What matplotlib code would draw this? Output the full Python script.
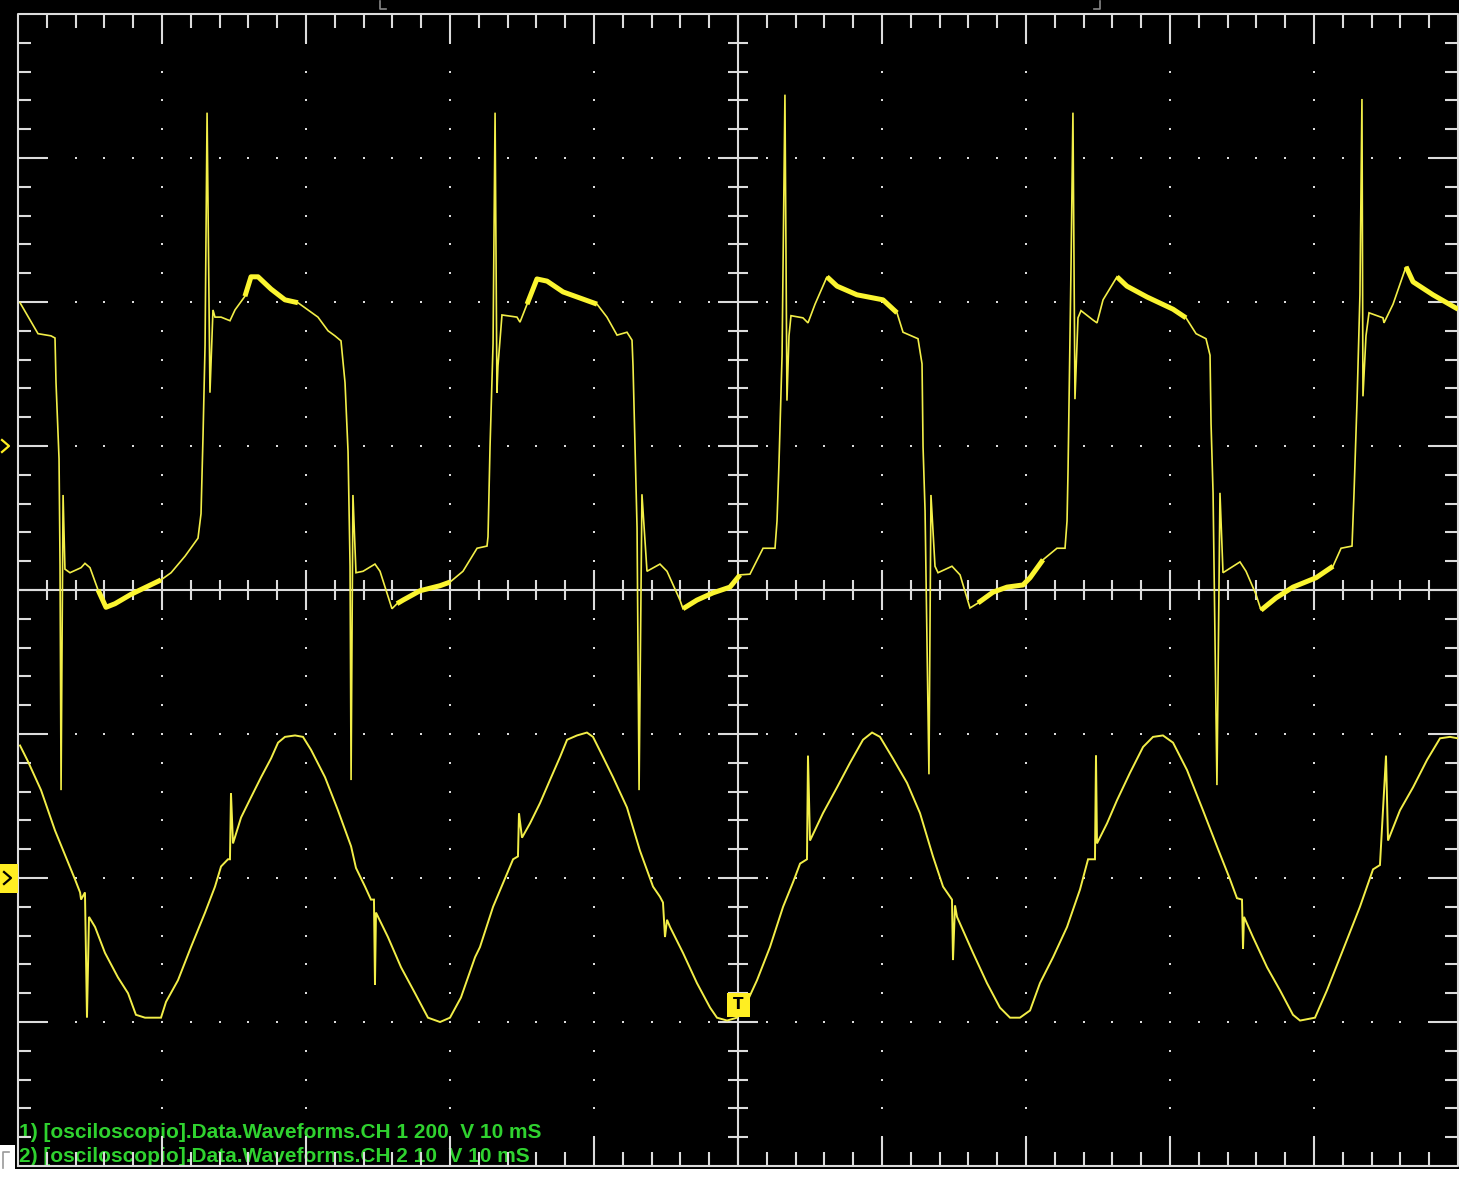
import numpy as np
import matplotlib.pyplot as plt
from matplotlib.patches import Rectangle

# Channel 1: time (ms) and voltage (V), 200 V/div
ch1_t = [0.14, 1.39, 2.29, 2.57, 2.64, 2.85, 2.92, 2.99, 3.13, 3.26,
         3.61, 4.38, 4.65, 5.0, 5.56, 6.11, 6.74, 7.85, 9.93, 10.63,
         11.6, 12.5, 12.71, 12.85, 12.99, 13.13, 13.33, 13.4, 13.54, 13.68,
         14.1, 14.72, 15.07, 15.76, 16.18, 16.67, 17.57, 18.54, 19.44, 20.14,
         20.83, 21.53, 22.01, 22.43, 22.71, 22.92, 23.06, 23.13, 23.26, 23.47,
         23.96, 24.79, 25.14, 25.97, 26.32, 26.74, 27.92, 29.31, 30.0, 30.9,
         31.88, 32.57, 32.64, 32.78, 32.99, 33.13, 33.26, 33.33, 33.61, 34.65,
         34.86, 35.35, 36.04, 36.74, 37.85, 39.24, 40.21, 40.9, 41.6, 42.29,
         42.64, 42.71, 42.85, 42.99, 43.13, 43.33, 43.68, 44.58, 45.07, 45.97,
         46.18, 47.15, 48.26, 49.44, 50.14, 50.83, 51.74, 52.57, 52.71, 52.85,
         53.06, 53.26, 53.4, 53.54, 53.68, 54.51, 54.86, 55.35, 56.18, 56.88,
         58.26, 60.07, 61.04, 61.46, 62.5, 62.78, 62.85, 62.99, 63.26, 63.4,
         63.68, 63.89, 64.86, 65.42, 66.11, 66.67, 67.71, 68.68, 69.79, 70.28,
         71.18, 72.15, 72.71, 72.85, 72.92, 73.13, 73.26, 73.4, 73.61, 73.82,
         74.65, 74.93, 75.35, 76.32, 77.01, 78.4, 80.21, 81.11, 81.81, 82.5,
         82.78, 82.85, 82.99, 83.26, 83.47, 83.68, 84.38, 84.86, 85.28, 85.97,
         86.32, 87.36, 88.54, 90.14, 91.32, 91.88, 92.64, 92.78, 92.99, 93.19,
         93.33, 93.4, 93.61, 93.82, 94.79, 94.86, 95.49, 96.39, 96.88, 98.26, 100.0]
ch1_v = [199, 156, 153, 150, 88, -18, -167, -478, -68, -171,
         -176, -169, -163, -169, -200, -224, -219, -206, -186, -176,
         -153, -128, -94, 15, 140, 463, 74, 113, 189, 179,
         179, 174, 189, 208, 235, 235, 218, 203, 199, 189,
         179, 160, 153, 146, 88, -8, -167, -464, -68, -176,
         -174, -164, -174, -226, -219, -214, -201, -194, -189, -174,
         -142, -139, -126, -1, 142, 463, 74, 111, 182, 179,
         172, 197, 232, 229, 214, 204, 197, 179, 154, 158,
         147, 111, -1, -114, -478, -67, -174, -164, -174, -214,
         -226, -214, -204, -196, -179, -178, -142, -142, -104, -21,
         126, 488, 63, 153, 181, 178, 171, 197, 235, 222,
         210, 203, 185, 158, 149, 114, -1, -90, -456, -68,
         -167, -176, -167, -179, -225, -218, -203, -196, -193, -183,
         -158, -142, -142, -104, -33, 254, 463, 65, 178, 188,
         175, 171, 203, 235, 222, 207, 190, 178, 156, 149,
         126, 31, -65, -471, -65, -176, -167, -161, -174, -206,
         -228, -211, -196, -183, -167, -142, -139, -65, 63, 210,
         482, 69, 153, 185, 178, 171, 197, 249, 228, 210, 190]

# Channel 2: time (ms) and voltage (V), 10 V/div
ch2_t = [0.14, 0.69, 1.6, 2.57, 3.96, 4.31, 4.38, 4.65, 4.79, 4.93,
         5.35, 6.04, 6.94, 7.64, 8.19, 8.82, 9.93, 10.28, 11.11, 12.01,
         12.99, 13.68, 14.1, 14.58, 14.72, 14.79, 14.93, 15.49, 16.18, 16.88,
         17.57, 18.06, 18.54, 19.24, 19.79, 20.35, 21.32, 22.22, 23.13, 23.47,
         24.1, 24.51, 24.72, 24.79, 24.86, 25.69, 26.6, 27.57, 28.47, 29.31,
         30.0, 30.76, 31.74, 32.08, 32.99, 33.96, 34.38, 34.72, 34.79, 35.0,
         35.56, 36.25, 36.94, 37.64, 38.13, 38.82, 39.51, 39.93, 40.63, 41.32,
         42.29, 43.19, 44.1, 44.58, 44.79, 44.93, 45.07, 45.28, 46.18, 47.15,
         48.06, 48.54, 49.24, 49.93, 50.63, 51.32, 52.22, 53.13, 53.82, 54.31,
         54.79, 54.86, 55.0, 55.9, 56.88, 57.78, 58.68, 59.31, 59.86, 60.76,
         61.74, 62.64, 63.54, 64.24, 64.86, 64.93, 65.07, 65.21, 66.32, 67.29,
         68.19, 68.89, 69.58, 70.28, 70.97, 71.88, 72.85, 73.75, 74.31, 74.79,
         74.86, 74.93, 75.63, 76.32, 77.22, 78.13, 78.82, 79.51, 80.21, 81.18,
         82.29, 83.26, 84.17, 84.65, 85.0, 85.07, 85.14, 85.76, 86.74, 87.64,
         88.54, 89.03, 90.07, 90.9, 92.01, 93.19, 94.1, 94.58, 95.0, 95.14,
         95.97, 96.88, 97.85, 98.75, 99.44, 100.0]
ch2_v = [9.2, 8.1, 6.1, 3.3, -0.1, -1.0, -1.5, -1.0, -9.7, -2.7,
         -3.4, -5.2, -6.9, -8.0, -9.5, -9.7, -9.7, -8.6, -7.1, -4.8,
         -2.4, -0.6, 0.8, 1.3, 1.3, 5.9, 2.4, 4.2, 5.6, 7.0,
         8.3, 9.4, 9.8, 9.9, 9.8, 8.9, 7.0, 4.7, 2.2, 0.7,
         -0.6, -1.5, -1.5, -7.4, -2.4, -4.1, -6.2, -8.0, -9.7, -10.0,
         -9.7, -8.3, -5.5, -4.8, -2.0, 0.3, 1.3, 1.5, 4.5, 2.8,
         3.8, 5.2, 6.8, 8.4, 9.6, 9.9, 10.1, 9.8, 8.4, 7.0,
         4.9, 1.9, -0.6, -1.3, -1.7, -4.1, -2.9, -3.4, -5.2, -7.3,
         -9.0, -9.7, -9.9, -9.7, -8.6, -7.1, -4.8, -2.0, -0.3, 1.0,
         1.3, 8.5, 2.6, 4.5, 6.3, 8.0, 9.6, 10.1, 9.8, 8.3,
         6.6, 4.5, 1.5, -0.6, -1.5, -5.7, -1.9, -2.7, -5.2, -7.3,
         -9.0, -9.7, -9.7, -9.2, -7.3, -5.5, -3.4, -0.8, 1.3, 1.3,
         8.5, 2.4, 3.8, 5.4, 7.3, 9.1, 9.8, 9.9, 9.4, 7.5,
         4.7, 2.2, -0.1, -1.4, -1.5, -4.9, -2.7, -4.1, -6.2, -7.8,
         -9.5, -9.9, -9.7, -7.8, -5.0, -2.0, 0.6, 0.9, 8.5, 2.6,
         4.7, 6.3, 8.2, 9.7, 9.8, 9.7]

# stretches where channel 1 is drawn as a thick noisy band (ms)
ch1_noisy = [(5.5, 10.0), (15.7, 19.5), (26.3, 30.1), (35.3, 40.3), (46.1, 50.2),
             (56.1, 61.1), (66.6, 71.2), (76.3, 81.2), (86.3, 91.4), (96.3, 100.0)]

labels = ['1) [osciloscopio].Data.Waveforms.CH 1 200  V 10 mS',
          '2) [osciloscopio].Data.Waveforms.CH 2 10  V 10 mS']

MS_PER_DIV = 10.0
CH1_V_PER_DIV, CH1_POS = 200.0, 1.0
CH2_V_PER_DIV, CH2_POS = 10.0, -2.0

W, H = 1460, 1179
PX = 1 / 144.0  # one pixel in divisions
TRACE = '#f2ee48'
GRID = '#dcdcdc'
GREEN = '#2fd22f'
MARK = '#ffee22'

fig = plt.figure(figsize=(W / 100, H / 100), dpi=100, facecolor='white')
fig.patches.append(Rectangle((0, 10 / H), 1459 / W, 1169 / H, transform=fig.transFigure,
                             facecolor='black', edgecolor='none', zorder=-10))
# corner of the screen at the lower left is outside the capture
fig.patches.append(Rectangle((0, 10 / H), 15 / W, 24 / H, transform=fig.transFigure,
                             facecolor='white', edgecolor='none', zorder=-9))
ax = fig.add_axes([18 / W, 13 / H, 1440 / W, 1152 / H])
ax.set_xlim(0, 10)
ax.set_ylim(-4, 4)
ax.axis('off')

# graticule
lw = 1.5
ax.plot([0, 10, 10, 0, 0], [-4, -4, 4, 4, -4], color=GRID, lw=lw, clip_on=False, zorder=3)
ax.hlines(0, 0, 10, color=GRID, lw=lw, zorder=3)
ax.vlines(5, -4, 4, color=GRID, lw=lw, zorder=3)

xs = np.round(np.arange(0.2, 10, 0.2), 1)
ys = np.round(np.arange(-3.8, 4, 0.2), 1)
for x in xs:
    major = abs(x - round(x)) < 1e-6
    L = 29 * PX if major else 14 * PX
    c = 20 * PX if major else 10 * PX
    ax.vlines(x, 4 - L, 4, color=GRID, lw=lw, zorder=3)
    ax.vlines(x, -4, -4 + L, color=GRID, lw=lw, zorder=3)
    if abs(x - 5) > 1e-6:
        ax.vlines(x, -c, c, color=GRID, lw=lw, zorder=3)
for y in ys:
    major = abs(y - round(y)) < 1e-6
    L = 29 * PX if major else 13 * PX
    c = 20 * PX if major else 10 * PX
    ax.hlines(y, 0, L, color=GRID, lw=lw, zorder=3)
    ax.hlines(y, 10 - L, 10, color=GRID, lw=lw, zorder=3)
    if abs(y) > 1e-6:
        ax.hlines(y, 5 - c, 5 + c, color=GRID, lw=lw, zorder=3)

for k in [1, 2, 3, 4, 6, 7, 8, 9]:
    ax.plot(np.full(len(ys), k), ys, 's', color=GRID, ms=1.5, mew=0, zorder=2)
for j in [-3, -2, -1, 1, 2, 3]:
    ax.plot(xs, np.full(len(xs), j), 's', color=GRID, ms=1.5, mew=0, zorder=2)

# traces
t1 = np.array(ch1_t) / MS_PER_DIV
y1 = np.array(ch1_v) / CH1_V_PER_DIV + CH1_POS
t2 = np.array(ch2_t) / MS_PER_DIV
y2 = np.array(ch2_v) / CH2_V_PER_DIV + CH2_POS
ax.plot(t1, y1, color=TRACE, lw=1.2, zorder=4, solid_joinstyle='miter')
ax.plot(t2, y2, color=TRACE, lw=1.4, zorder=4, solid_joinstyle='miter')
ch1_t_arr = np.array(ch1_t)
for a, b in ch1_noisy:
    m = (ch1_t_arr >= a) & (ch1_t_arr <= b)
    ax.plot(t1[m], y1[m], color='#fbf530', lw=3.6, zorder=4, solid_capstyle='butt')

# channel reference markers (chevrons at the left edge)
def chevron(x0, y0, color):
    ax.plot([x0 - 4 * PX, x0 + 3 * PX, x0 - 4 * PX],
            [y0 + 6 * PX, y0, y0 - 6 * PX],
            color=color, lw=1.6, clip_on=False, zorder=6)


chevron(-12 * PX, CH1_POS, MARK)
ax.add_patch(Rectangle((-18 * PX, CH2_POS - 15 * PX), 18 * PX, 29 * PX, facecolor=MARK,
                       edgecolor='none', clip_on=False, zorder=5))
chevron(-10 * PX, CH2_POS, 'black')

# trigger marker
ax.add_patch(Rectangle((5 - 11 * PX, -2.965), 23 * PX, 24 * PX, facecolor=MARK,
                       edgecolor='none', zorder=6))
ax.text(5, -2.965 + 12 * PX, 'T', color='black', fontsize=11, fontweight='bold',
        family='DejaVu Sans', ha='center', va='center', zorder=7)

# small brackets above the screen
for xb, d in [(2.514, 1), (7.514, -1)]:
    ax.plot([xb + d * 6 * PX, xb, xb], [4 + 5 * PX, 4 + 5 * PX, 4 + 13 * PX],
            color='#888888', lw=1.2, clip_on=False, zorder=3)

# channel labels
for i, s in enumerate(labels):
    ax.text(1 * PX, -4 + (33 - 23 * i) * PX, s, color=GREEN, fontsize=15, fontweight='bold',
            family='Liberation Sans', ha='left', va='center', zorder=1)

ax.plot([-9 * PX, -15 * PX, -15 * PX], [-4 + 14 * PX, -4 + 14 * PX, -4 - 2 * PX],
        color='#999999', lw=1.2, clip_on=False, zorder=3)

fig.savefig('out.png', dpi=100, facecolor='white')
